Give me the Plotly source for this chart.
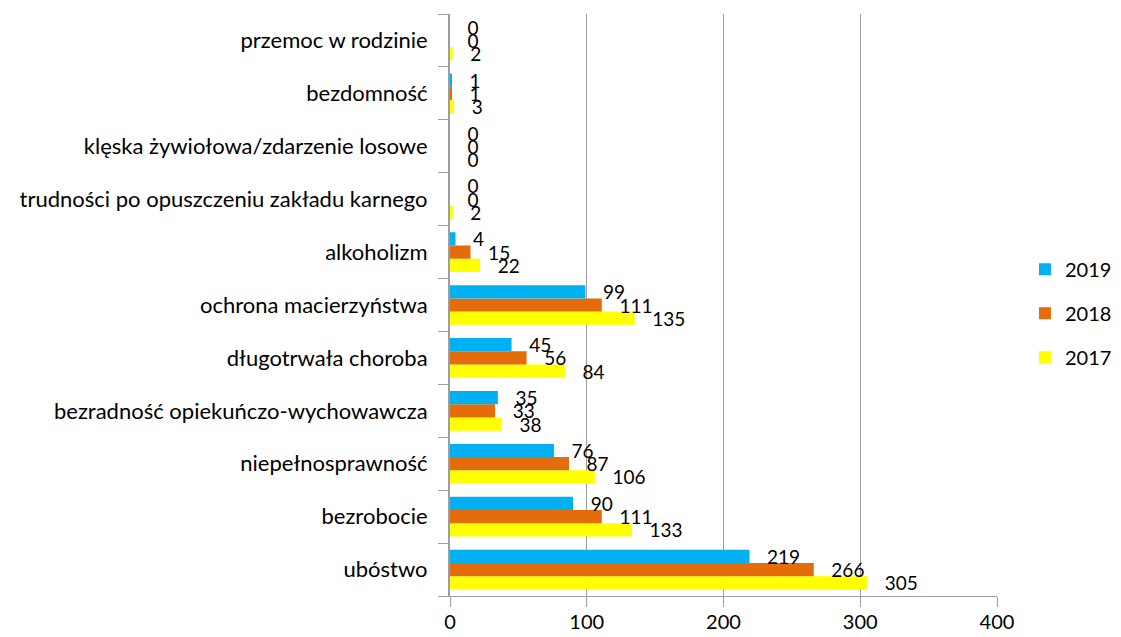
import plotly.graph_objects as go

categories = [
    "ubóstwo",
    "bezrobocie",
    "niepełnosprawność",
    "bezradność opiekuńczo-wychowawcza",
    "długotrwała choroba",
    "ochrona macierzyństwa",
    "alkoholizm",
    "trudności po opuszczeniu zakładu karnego",
    "klęska żywiołowa/zdarzenie losowe",
    "bezdomność",
    "przemoc w rodzinie",
]
v2019 = [219, 90, 76, 35, 45, 99, 4, 0, 0, 1, 0]
v2018 = [266, 111, 87, 33, 56, 111, 15, 0, 0, 1, 0]
v2017 = [305, 133, 106, 38, 84, 135, 22, 2, 0, 3, 2]
x_ticks = [0, 100, 200, 300, 400]

series = [("2017", v2017, "#FFFF00", 3), ("2018", v2018, "#E46C0A", 2), ("2019", v2019, "#00B0F0", 1)]

fig = go.Figure()
for name, vals, col, rank in series:
    fig.add_trace(go.Bar(
        y=categories, x=vals, name=name, orientation="h", legendgroup=name, legendrank=rank,
        marker=dict(color=col, line=dict(width=0)),
        texttemplate="\u00a0\u00a0\u00a0%{x}", textposition="outside",
        textfont=dict(size=19, color="#000000", family="Lato"),
        constraintext="none", cliponaxis=False,
    ))

# page body has an 8px default margin: compensate in figure size / margins
fig.update_layout(
    width=1113, height=629,
    paper_bgcolor="white", plot_bgcolor="white",
    barmode="group", bargap=0.25, bargroupgap=0,
    margin=dict(l=442, r=0, t=6, b=41, autoexpand=False),
    font=dict(family="Lato", size=20, color="#000000"),
    legend=dict(traceorder="grouped", x=0.994, y=0.486, yanchor="middle", xanchor="right",
                font=dict(size=20), itemwidth=30, tracegroupgap=15, bgcolor="rgba(0,0,0,0)"),
    showlegend=True,
)
fig.update_xaxes(
    domain=[0, 547 / 671],
    range=[0, 400], tickvals=x_ticks, showgrid=True, gridcolor="#9E9E9E", gridwidth=1,
    showline=True, linecolor="#9E9E9E", linewidth=1, ticks="outside", ticklen=10,
    tickcolor="#9E9E9E", tickfont=dict(size=20), zeroline=False, automargin=False,
    ticklabelstandoff=-2,
)
fig.update_yaxes(
    type="category", showline=True, linecolor="#9E9E9E", linewidth=2,
    ticks="outside", tickson="boundaries", ticklen=10, tickcolor="#9E9E9E",
    tickfont=dict(size=22), showgrid=False, ticklabelstandoff=16, automargin=False,
)
fig.write_html("out.html")
